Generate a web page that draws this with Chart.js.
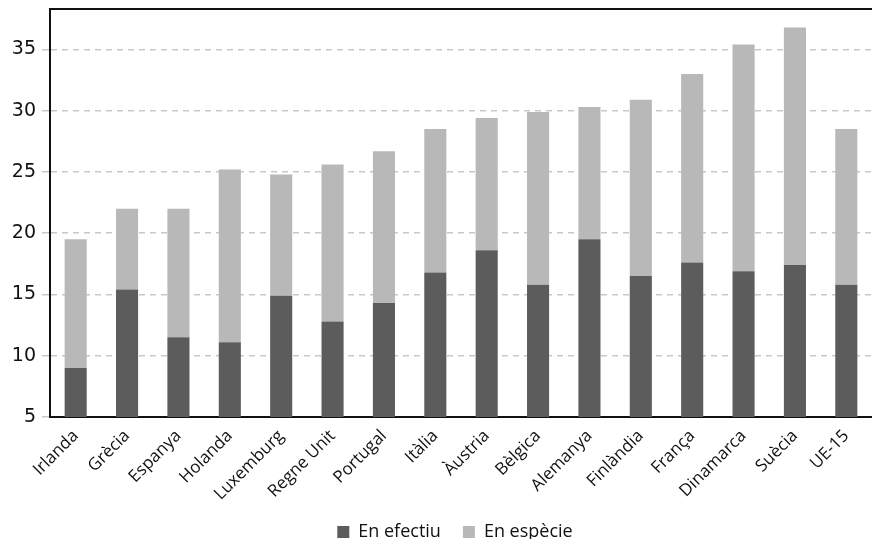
<!DOCTYPE html>
<html>
<head>
<meta charset="utf-8">
<script src="https://cdn.jsdelivr.net/npm/chart.js@4/dist/chart.umd.min.js"></script>
<style>
  html, body { margin: 0; padding: 0; background: #fff; }
  #wrap { width: 872px; height: 539px; position: relative; }
</style>
</head>
<body>
<div id="wrap"><canvas id="c"></canvas></div>
<script>
// Countries (EU-15) ordered by total social protection spending
const countries = ['Irlanda', 'Grècia', 'Espanya', 'Holanda', 'Luxemburg', 'Regne Unit', 'Portugal',
  'Itàlia', 'Àustria', 'Bèlgica', 'Alemanya', 'Finlàndia', 'França', 'Dinamarca', 'Suècia', 'UE-15'];

// Cash benefits ("en efectiu")
const cashValues = [9.0, 15.4, 11.5, 11.1, 14.9, 12.8, 14.3, 16.8, 18.6, 15.8, 19.5, 16.5, 17.6, 16.9, 17.4, 15.8];

// Benefits in kind ("en espècie")
const kindValues = [10.5, 6.6, 10.5, 14.1, 9.9, 12.8, 12.4, 11.7, 10.8, 14.1, 10.8, 14.4, 15.4, 18.5, 19.4, 12.7];

const yTicks = [5, 10, 15, 20, 25, 30, 35];
const yMin = 5;
const yMax = 38.3;

const labelFamily = '"Open Sans", Lato, sans-serif';

// Draws the closing line along the top of the plot area
const topBorder = {
  id: 'topBorder',
  afterDraw(chart) {
    const { ctx, chartArea } = chart;
    ctx.save();
    ctx.strokeStyle = '#111';
    ctx.lineWidth = 2;
    ctx.beginPath();
    ctx.moveTo(chartArea.left - 1, chartArea.top);
    ctx.lineTo(chart.width, chartArea.top);
    ctx.stroke();
    ctx.restore();
  }
};

// Centre the legend under the plot area rather than the whole canvas
const legendUnderPlot = {
  id: 'legendUnderPlot',
  afterLayout(chart) {
    const lg = chart.legend;
    if (!lg) return;
    const shift = chart.chartArea.left / 2 - 6;
    lg.left += shift;
    lg.right += shift;
  }
};

new Chart(document.getElementById('c'), {
  type: 'bar',
  data: {
    labels: countries,
    datasets: [
      { label: 'En efectiu', data: cashValues, backgroundColor: '#5c5c5c' },
      { label: 'En espècie', data: kindValues, backgroundColor: '#b8b8b8' }
    ]
  },
  options: {
    responsive: true,
    maintainAspectRatio: false,
    animation: false,
    // the legend row's padding is generous (it also spaces the two items),
    // so let its box run a little past the bottom edge
    layout: { padding: { top: 9, right: 0, left: 0, bottom: -12 } },
    datasets: { bar: { barPercentage: 0.43, categoryPercentage: 1 } },
    plugins: {
      tooltip: { enabled: false },
      legend: {
        position: 'bottom',
        labels: {
          boxWidth: 12, boxHeight: 12, padding: 22,
          color: '#111',
          font: { family: labelFamily, size: 18 }
        }
      }
    },
    scales: {
      x: {
        stacked: true,
        grid: { display: false },
        border: { display: true, color: '#111', width: 2 },
        afterFit(scale) { scale.height = 84; },
        ticks: {
          color: '#111',
          font: { family: labelFamily, size: 17 },
          minRotation: 45, maxRotation: 45, padding: 1
        }
      },
      y: {
        stacked: true,
        min: yMin,
        max: yMax,
        afterBuildTicks(scale) {
          scale.ticks = yTicks.map(v => ({ value: v }));
        },
        afterFit(scale) {
          scale.width = 50;
          scale.paddingTop = 0;
        },
        grid: {
          color: '#c8c8c8',
          lineWidth: 1.5,
          tickLength: 8,
          tickColor: '#c8c8c8',
          drawOnChartArea: true
        },
        border: { display: true, color: '#111', width: 2, dash: [6, 5] },
        ticks: {
          color: '#111',
          font: { family: '"DejaVu Sans", sans-serif', size: 19 },
          padding: 6
        }
      }
    }
  },
  plugins: [topBorder, legendUnderPlot]
});
</script>
</body>
</html>
